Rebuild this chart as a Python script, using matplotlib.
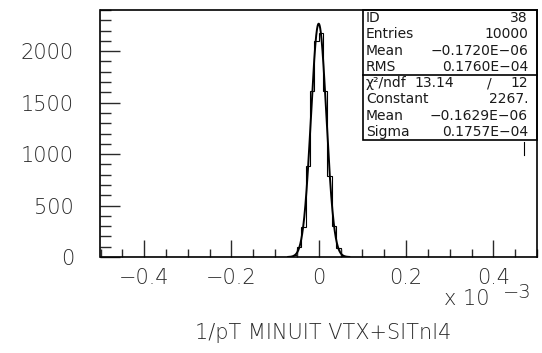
import numpy as np
import matplotlib
matplotlib.use("Agg")
import matplotlib.pyplot as plt
from matplotlib.ticker import MultipleLocator, FixedLocator

# Histogram: 100 bins of width 0.01 (units of 1e-3) from -0.5 to 0.5
bin_lo, bin_hi, n_bins = -0.5, 0.5, 100
# Non-empty bins: centre -> entries
occupied_centres = [-0.085, -0.075, -0.065, -0.055, -0.045, -0.035, -0.025, -0.015, -0.005,
                    0.005, 0.015, 0.025, 0.035, 0.045, 0.055, 0.065, 0.075]
occupied_counts = [1, 2, 3, 15, 100, 296, 889, 1615, 2094,
                   2179, 1615, 785, 300, 85, 12, 3, 2]

# Gaussian fit parameters
fit_constant = 2267.0
fit_mean = -0.1629e-3   # in units of 1e-3
fit_sigma = 0.1757e-1   # in units of 1e-3
fit_range = (-0.07, 0.07)

stats_rows = [("ID", "38"), ("Entries", "10000"), ("Mean", "\u22120.1720E\u221206"),
              ("RMS", "0.1760E\u221204")]
fit_rows = [("Constant", "2267."), ("Mean", "\u22120.1629E\u221206"), ("Sigma", "0.1757E\u221204")]
chi2_label, chi2_text, ndf_text = "\u03c7\u00b2/ndf", "13.14", "12"

x_label = "1/pT MINUIT VTX+SITnl4"
y_max = 2400

W, H = 542, 353
fig = plt.figure(figsize=(W / 100, H / 100), dpi=100)
plt.rcParams["font.family"] = ["DejaVu Sans"]
TXT = "#2a2a2a"

def px(x, y):
    return x / W, 1 - y / H

ax_l, ax_r, ax_t, ax_b = 100.5, 537.0, 10.0, 257.0
ax = fig.add_axes([ax_l / W, 1 - ax_b / H, (ax_r - ax_l) / W, (ax_b - ax_t) / H])

edges = np.linspace(bin_lo, bin_hi, n_bins + 1)
centres = 0.5 * (edges[:-1] + edges[1:])
counts = np.zeros(n_bins)
for c, n in zip(occupied_centres, occupied_counts):
    counts[np.argmin(np.abs(centres - c))] = n

ax.stairs(counts, edges, color="black", lw=0.8)

xf = np.linspace(fit_range[0], fit_range[1], 400)
yf = fit_constant * np.exp(-0.5 * ((xf - fit_mean) / fit_sigma) ** 2)
ax.plot(xf, yf, color="black", lw=1.4)

ax.set_xlim(bin_lo, bin_hi)
ax.set_ylim(0, y_max)

for s in ax.spines.values():
    s.set_linewidth(1.2)

ax.xaxis.set_major_locator(FixedLocator([-0.4, -0.2, 0.0, 0.2, 0.4]))
ax.xaxis.set_minor_locator(MultipleLocator(0.05))
ax.yaxis.set_major_locator(FixedLocator([0, 500, 1000, 1500, 2000]))
ax.yaxis.set_minor_locator(MultipleLocator(100))
ax.set_xticklabels(["\u22120.4", "\u22120.2", "0", "0.2", "0.4"])
ax.set_yticklabels(["0", "500", "1000", "1500", "2000"])
ax.tick_params(axis="x", which="major", direction="in", length=12.2, width=1.0,
               labelsize=15, pad=8, colors=TXT)
ax.tick_params(axis="x", which="minor", direction="in", length=6.1, width=1.0, colors=TXT)
ax.tick_params(axis="y", which="major", direction="in", length=14.4, width=1.0,
               labelsize=15, pad=19, colors=TXT)
ax.tick_params(axis="y", which="minor", direction="in", length=7.9, width=1.0, colors=TXT)
for lab in ax.get_xticklabels() + ax.get_yticklabels():
    lab.set_fontweight("light")

# Statistics box
bx0, bx1, by0, by1 = 363.0, 537.0, 10.0, 140.0
row_h = (by1 - by0) / 8
box = plt.Rectangle(px(bx0, by1), (bx1 - bx0) / W, (by1 - by0) / H, transform=fig.transFigure,
                    fill=False, lw=1.2, color="black")
fig.add_artist(box)
fig.add_artist(plt.Line2D([bx0 / W, bx1 / W], [1 - (by0 + 4 * row_h) / H] * 2,
                          transform=fig.transFigure, color="black", lw=1.2))
fig.add_artist(plt.Line2D([524 / W, 524 / W], [1 - 142 / H, 1 - 155 / H],
                          transform=fig.transFigure, color="black", lw=0.8))

tk = dict(fontsize=10, color="#1a1a1a", va="center")
rows = stats_rows + [None] + fit_rows
for i, r in enumerate(rows):
    yc = by0 + (i + 0.5) * row_h
    if r is None:
        fig.text(*px(366, yc), chi2_label, ha="left", **tk)
        fig.text(*px(454, yc), chi2_text, ha="right", **tk)
        fig.text(*px(489, yc), "/", ha="center", **tk)
        fig.text(*px(528, yc), ndf_text, ha="right", **tk)
        continue
    fig.text(*px(366, yc), r[0], ha="left", **tk)
    fig.text(*px(528, yc), r[1], ha="right", **tk)

fig.text(*px(467, 299), "x 10", ha="center", va="center", fontsize=15, color=TXT,
         fontweight="light")
fig.text(*px(517, 292), "\u22123", ha="center", va="center", fontsize=14, color=TXT,
         fontweight="light")
fig.text(*px(323, 333), x_label, ha="center", va="center", fontsize=15, color=TXT,
         fontweight="light")

fig.savefig("out.png", dpi=100)
